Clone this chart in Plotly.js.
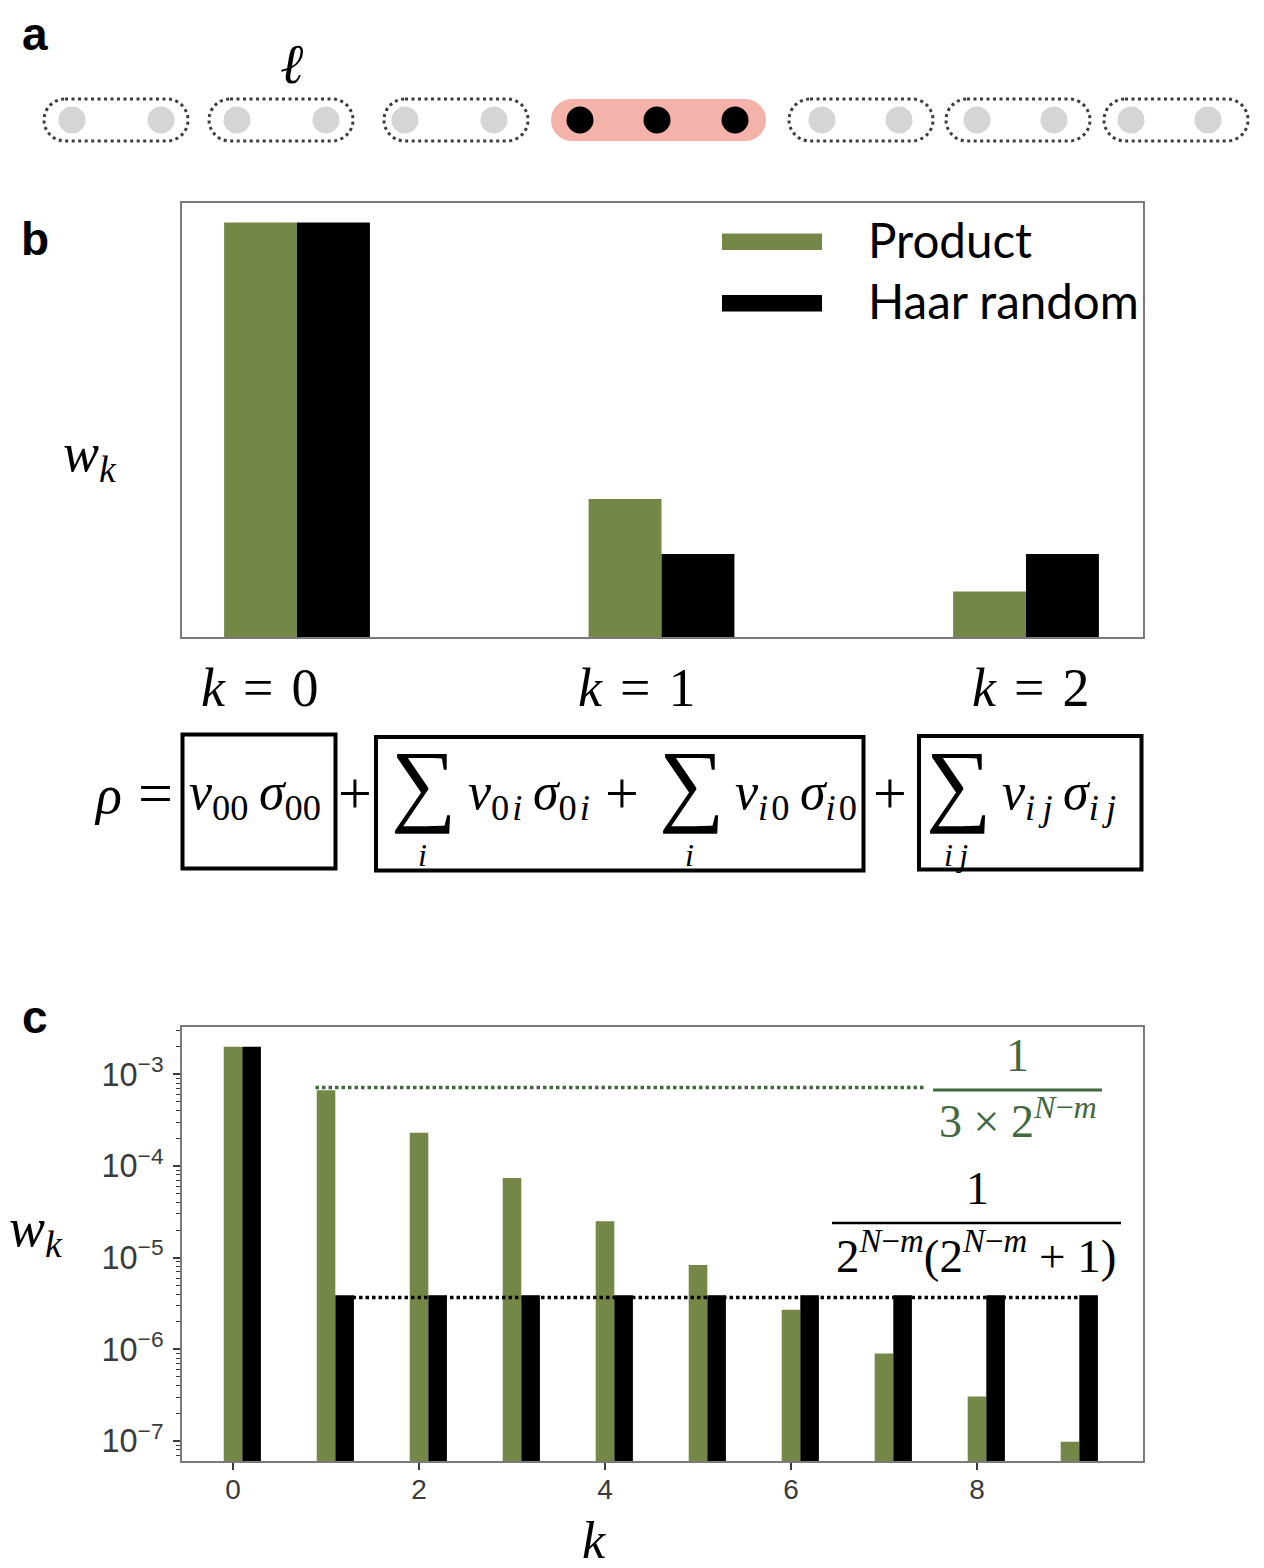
<!DOCTYPE html>
<html><head><meta charset="utf-8">
<script src="https://cdn.plot.ly/plotly-3.0.1.min.js"></script>
<style>html,body{margin:0;padding:0;background:#fff}#p{width:1264px;height:1568px}</style>
</head><body><div id="p"></div>
<script>
const W=1264,H=1568;
// Panel b values
const kB=[0,1,2];
const productB=[1,0.333,0.11];
const haarB=[1,0.2,0.2];
const seriesNames=['Product','Haar random'];
// Panel c values
const kC=[0,1,2,3,4,5,6,7,8,9];
const productC=[2e-3,6.7e-4,2.3e-4,7.4e-5,2.5e-5,8.3e-6,2.7e-6,9e-7,3.06e-7,9.8e-8];
const haarC=[2e-3,3.9e-6,3.9e-6,3.9e-6,3.9e-6,3.9e-6,3.9e-6,3.9e-6,3.9e-6,3.9e-6];
const refProductX=[0.887,7.45], refProductY=[7.2e-4,7.2e-4];
const refHaarX=[1.285,9.3], refHaarY=[3.68e-6,3.68e-6];
// Panel a schematic
const greySitesX=[72,161,237,326,405,494,822,899,977,1054,1131,1208];
const blackSitesX=[580,657,735];
const siteY=120;
const pillsX=[[44,188],[209,353],[384,528],[789,933],[946,1090],[1104,1248]];
const pinkPillX=[551,766];
const GREEN='#758746',DK='#41683f',AX='#7a7a7a',TXT='#3a3a3a';
const SERIF='"Liberation Serif",serif';
const TH='\u2009',HS='\u200A';

function pill(x0,x1,y0,y1){const r=(y1-y0)/2,c=r*0.45;
 return `M${x0+r},${y0}L${x1-r},${y0}C${x1-c},${y0} ${x1},${y0+c} ${x1},${y0+r}C${x1},${y1-c} ${x1-c},${y1} ${x1-r},${y1}L${x0+r},${y1}C${x0+c},${y1} ${x0},${y1-c} ${x0},${y0+r}C${x0},${y0+c} ${x0+c},${y0} ${x0+r},${y0}Z`;}

const shapes=[];
const cv={xref:'x3',yref:'y3'};
shapes.push({...cv,type:'path',path:pill(pinkPillX[0],pinkPillX[1],99,141),fillcolor:'#f5b2aa',line:{width:0},layer:'below'});
pillsX.forEach(p=>shapes.push({...cv,type:'path',path:pill(p[0],p[1],99,141),fillcolor:'rgba(0,0,0,0)',line:{color:'#3c3c3c',width:3,dash:'3px,3.5px'},layer:'below'}));
[[182.5,734.5,335.5,868.5],[376,737,863.5,870.5],[919,736,1141.5,869.5]].forEach(b=>shapes.push({...cv,type:'rect',x0:b[0],y0:b[1],x1:b[2],y1:b[3],line:{color:'#000',width:4},fillcolor:'rgba(0,0,0,0)'}));
shapes.push({...cv,type:'line',x0:933,x1:1102,y0:1090,y1:1090,line:{color:DK,width:3}});
shapes.push({...cv,type:'line',x0:832,x1:1121,y0:1223,y1:1223,line:{color:'#000',width:2.5}});
shapes.push({...cv,type:'rect',x0:722,x1:822,y0:233.5,y1:250,fillcolor:GREEN,line:{width:0}});
shapes.push({...cv,type:'rect',x0:722,x1:822,y0:295,y1:311.5,fillcolor:'#000',line:{width:0}});

function T(x,y,text,size,opt={}){return Object.assign({xref:'x3',yref:'y3',x,y,text,showarrow:false,xanchor:'center',yanchor:'middle',font:{family:SERIF,size,color:'#000'}},opt);}
const BOLD={family:'"Liberation Sans",sans-serif',size:46,color:'#000'};
const LG={family:'Lato',size:47.5,color:'#000'};
const EQ=52, PLUS=60, SUM=92;
const annotations=[
 T(35,34,'<b>a</b>',46,{font:BOLD}),T(35,239,'<b>b</b>',46,{font:BOLD}),T(35,1017,'<b>c</b>',46,{font:BOLD}),
 T(292,64,'<i>ℓ</i>',56),
 T(90,456,'<i>w</i><sub><i>k</i></sub>',54),
 T(36,1231,'<i>w</i><sub><i>k</i></sub>',54),
 T(866,239,seriesNames[0],47.5,{xanchor:'left',font:LG}),
 T(866,300,seriesNames[1],47.5,{xanchor:'left',font:LG}),
 T(259,688,`<i>k</i> ${HS}=${HS} 0`,54),T(636,688,`<i>k</i> ${HS}=${HS} 1`,54),T(1030,688,`<i>k</i> ${HS}=${HS} 2`,54),
 T(108,795,'<i>ρ</i>',54),T(155,793,'=',62),
 T(187,795,`<i>v</i><sub>00</sub>${TH}<i>σ</i><sub>00</sub>`,EQ,{xanchor:'left'}),
 T(355,793,'+',PLUS),
 T(424,783,'∑',SUM),T(422,855,'<i>i</i>',32),
 T(466,795,`<i>v</i><sub>0${HS}<i>i</i></sub>${TH}<i>σ</i><sub>0${HS}<i>i</i></sub>`,EQ,{xanchor:'left'}),
 T(622,793,'+',PLUS),
 T(692,783,'∑',SUM),T(689,855,'<i>i</i>',32),
 T(733,795,`<i>v</i><sub><i>i</i>${HS}0</sub>${TH}<i>σ</i><sub><i>i</i>${HS}0</sub>`,EQ,{xanchor:'left'}),
 T(890,793,'+',PLUS),
 T(959,783,'∑',SUM),T(956,855,`<i>i${TH}j</i>`,32),
 T(1000,795,`<i>v</i><sub><i>i${TH}j</i></sub>${TH}<i>σ</i><sub><i>i${TH}j</i></sub>`,EQ,{xanchor:'left'}),
 T(1017,1055,'1',46,{font:{family:SERIF,size:46,color:DK}}),
 T(1018,1118,'3 × 2<sup><i>N</i>−<i>m</i></sup>',46,{font:{family:SERIF,size:46,color:DK}}),
 T(977,1188,'1',46),
 T(976,1252,'2<sup><i>N</i>−<i>m</i></sup>(2<sup><i>N</i>−<i>m</i></sup> + 1)',47),
 T(594,1540,'<i>k</i>',52)
];

const traces=[
 {type:'bar',name:seriesNames[0],x:kB,y:productB,width:0.2,offset:-0.2,marker:{color:GREEN,line:{width:0}},xaxis:'x',yaxis:'y'},
 {type:'bar',name:seriesNames[1],x:kB,y:haarB,width:0.2,offset:0,marker:{color:'#000',line:{width:0}},xaxis:'x',yaxis:'y'},
 {type:'bar',name:seriesNames[0],x:kC,y:productC,width:0.2,offset:-0.1,marker:{color:GREEN,line:{width:0}},xaxis:'x2',yaxis:'y2'},
 {type:'bar',name:seriesNames[1],x:kC,y:haarC,width:0.2,offset:0.1,marker:{color:'#000',line:{width:0}},xaxis:'x2',yaxis:'y2'},
 {type:'scatter',mode:'lines',x:refProductX,y:refProductY,line:{color:DK,width:3.5,dash:'3.5px,3px'},xaxis:'x2',yaxis:'y2'},
 {type:'scatter',mode:'lines',x:refHaarX,y:refHaarY,line:{color:'#000',width:3.5,dash:'3.5px,3px'},xaxis:'x2',yaxis:'y2'},
 {type:'scatter',mode:'markers',x:greySitesX,y:greySitesX.map(()=>siteY),marker:{color:'#d5d5d5',size:27},xaxis:'x3',yaxis:'y3'},
 {type:'scatter',mode:'markers',x:blackSitesX,y:blackSitesX.map(()=>siteY),marker:{color:'#000',size:27},xaxis:'x3',yaxis:'y3'}
];
const dom=(a,b)=>[a/W,b/W], domY=(top,bot)=>[1-bot/H,1-top/H];
const layout={
 width:W,height:H,margin:{l:0,r:0,t:0,b:0},paper_bgcolor:'#fff',plot_bgcolor:'rgba(0,0,0,0)',barmode:'overlay',showlegend:false,
 hovermode:false,shapes,annotations,
 xaxis:{domain:dom(181.5,1143),range:[-0.3169,2.321],showticklabels:false,ticks:'',showgrid:false,zeroline:false,showline:true,mirror:true,linecolor:AX,linewidth:1.5,anchor:'y'},
 yaxis:{domain:domY(203,637),range:[0,1.047],showticklabels:false,ticks:'',showgrid:false,zeroline:false,showline:true,mirror:true,linecolor:AX,linewidth:1.5,anchor:'x'},
 xaxis2:{domain:dom(181.5,1143),range:[-0.554,9.785],tick0:0,dtick:2,ticks:'outside',ticklen:7,tickwidth:1.5,ticklabelstandoff:-4,tickcolor:TXT,tickfont:{family:'"Liberation Sans"',size:28,color:TXT},showgrid:false,zeroline:false,showline:true,mirror:true,linecolor:AX,linewidth:1.5,anchor:'y2'},
 yaxis2:{domain:domY(1027,1461),type:'log',range:[-7.218,-2.484],dtick:1,ticks:'outside',ticklen:7,tickwidth:1.5,ticklabelstandoff:4,tickcolor:TXT,tickfont:{family:'"Liberation Sans"',size:26,color:TXT},exponentformat:'power',showgrid:false,zeroline:false,showline:true,mirror:true,linecolor:AX,linewidth:1.5,anchor:'x2',
   minor:{ticks:'outside',ticklen:4,dtick:'D1',tickwidth:1,tickcolor:TXT,showgrid:false}},
 xaxis3:{domain:[0,1],range:[0,W],visible:false,anchor:'y3',fixedrange:true},
 yaxis3:{domain:[0,1],range:[H,0],visible:false,anchor:'x3',fixedrange:true}
};
Plotly.newPlot('p',traces,layout,{displayModeBar:false,responsive:false});
</script></body></html>
